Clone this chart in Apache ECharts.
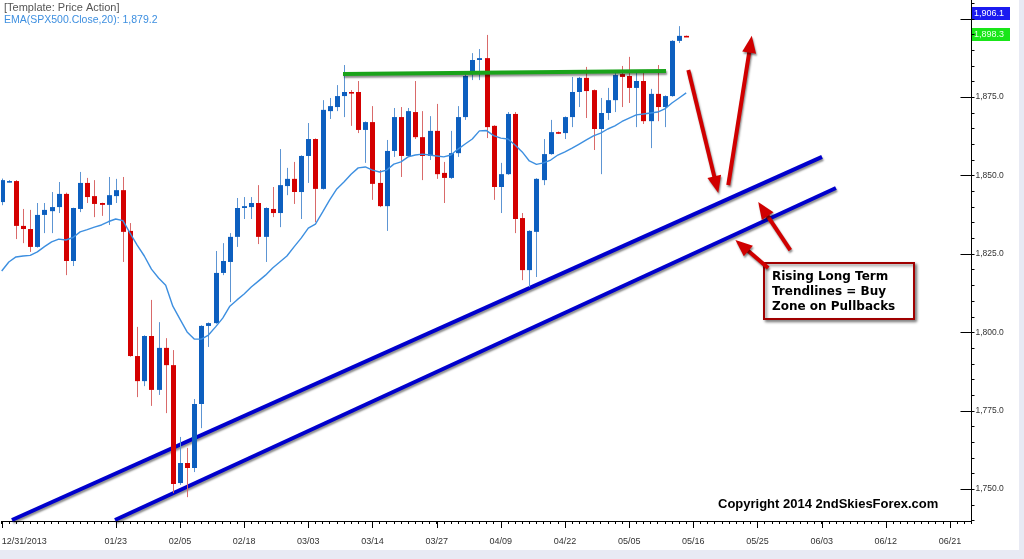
<!DOCTYPE html>
<html><head><meta charset="utf-8">
<script src="https://cdn.jsdelivr.net/npm/echarts@6/dist/echarts.min.js"></script>
<style>html,body{margin:0;padding:0;background:#fff;overflow:hidden}#c{width:1024px;height:559px;}</style>
</head><body><div id="c"></div>
<script>
// ---- data (bar index 0 = 12/31/2013) ----
const opens  = [1841.5,1848.0,1848.2,1833.9,1832.9,1827.2,1837.4,1838.6,1839.9,1844.1,1822.7,1839.3,1847.6,1843.4,1841.2,1840.6,1843.4,1845.3,1832.3,1792.4,1784.4,1798.8,1781.6,1795.0,1789.5,1751.9,1758.3,1756.7,1777.1,1802.0,1802.9,1818.9,1822.4,1830.4,1839.6,1839.9,1841.2,1830.4,1839.3,1838.0,1846.6,1848.9,1844.7,1856.2,1861.6,1845.7,1870.5,1871.8,1875.3,1876.6,1876.6,1864.5,1867.0,1847.6,1840.2,1857.8,1868.6,1856.2,1870.2,1862.2,1856.2,1864.2,1850.8,1849.2,1857.1,1868.6,1883.0,1886.8,1887.4,1865.8,1846.3,1850.4,1869.6,1836.4,1819.8,1832.0,1848.5,1856.8,1863.8,1863.5,1868.6,1876.6,1881.1,1877.2,1864.8,1869.9,1874.0,1882.3,1881.7,1877.9,1880.1,1867.3,1876.0,1871.8,1875.3,1892.9,1894.5];
const closes = [1848.5,1848.2,1833.9,1832.9,1827.2,1837.4,1839.0,1839.9,1844.1,1822.7,1839.6,1847.6,1843.1,1840.9,1840.6,1843.7,1845.3,1832.0,1792.4,1784.4,1798.8,1781.6,1795.0,1789.5,1751.6,1758.3,1756.7,1777.1,1802.0,1802.9,1818.9,1822.7,1830.4,1839.6,1840.2,1841.2,1830.4,1839.6,1838.0,1846.9,1848.9,1844.7,1856.2,1861.6,1845.7,1870.9,1872.1,1875.3,1876.6,1876.3,1864.5,1867.0,1847.3,1840.2,1857.8,1868.6,1856.2,1870.5,1862.2,1856.2,1864.2,1850.4,1849.2,1857.1,1868.6,1881.7,1886.8,1887.4,1865.4,1846.3,1850.4,1869.6,1836.1,1819.8,1832.3,1848.9,1856.8,1863.8,1863.4,1868.6,1876.6,1881.1,1876.9,1864.8,1869.9,1874.0,1882.0,1881.4,1877.9,1880.1,1867.3,1876.0,1871.8,1875.3,1892.9,1894.5,1894.3];
const lows   = [1840.5,1847.8,1829.7,1828.4,1825.6,1827.0,1831.6,1831.6,1838.0,1818.2,1821.1,1838.3,1841.2,1836.7,1837.1,1834.2,1841.2,1822.4,1792.2,1779.3,1782.8,1776.5,1780.0,1774.2,1748.7,1751.3,1747.4,1755.4,1769.4,1795.3,1802.7,1818.2,1809.6,1827.2,1836.1,1836.1,1828.1,1822.4,1836.7,1833.5,1843.7,1840.9,1836.1,1847.6,1835.1,1845.5,1868.0,1870.5,1868.6,1865.8,1863.5,1854.0,1842.2,1839.9,1832.3,1855.9,1849.5,1856.0,1861.6,1848.5,1854.9,1848.9,1841.2,1848.9,1855.9,1867.7,1880.4,1880.4,1861.9,1842.2,1838.0,1850.2,1831.6,1816.6,1814.4,1817.6,1846.9,1856.6,1863.2,1861.6,1865.4,1871.8,1868.3,1858.1,1850.4,1867.7,1870.2,1871.8,1873.1,1865.4,1866.4,1858.7,1867.3,1865.4,1875.1,1892.2,1894.2];
const highs  = [1849.0,1848.5,1848.5,1839.3,1839.0,1841.2,1841.2,1844.7,1847.9,1844.5,1839.7,1851.1,1849.2,1848.5,1841.3,1849.5,1848.9,1849.5,1834.8,1801.7,1799.0,1810.3,1803.2,1798.1,1794.3,1766.6,1763.1,1778.7,1802.2,1803.1,1825.9,1828.4,1831.6,1842.8,1843.1,1843.1,1846.9,1839.8,1846.3,1858.4,1852.4,1854.3,1856.4,1866.7,1861.8,1874.0,1874.7,1878.8,1885.2,1877.2,1880.1,1867.2,1872.1,1851.7,1861.3,1871.5,1871.8,1871.5,1880.1,1870.5,1868.9,1872.8,1854.3,1864.2,1872.1,1882.3,1889.0,1890.3,1894.8,1866.0,1854.0,1870.2,1870.2,1838.0,1832.5,1849.1,1861.6,1867.7,1864.0,1868.8,1881.4,1881.4,1884.6,1877.4,1874.7,1877.9,1883.0,1884.9,1887.8,1882.7,1882.7,1877.6,1885.2,1875.5,1893.1,1897.6,1894.6];
const ema20  = [1819.5,1822.4,1824.0,1824.3,1824.5,1825.6,1827.3,1828.8,1829.7,1829.4,1830.2,1832.0,1832.7,1833.5,1834.2,1835.3,1836.1,1835.6,1831.6,1827.8,1824.3,1820.1,1817.3,1815.0,1808.3,1804.2,1800.1,1797.8,1797.8,1799.1,1801.7,1804.5,1808.3,1810.3,1812.2,1814.4,1816.3,1818.2,1820.5,1822.4,1824.3,1827.2,1830.0,1833.2,1834.5,1838.3,1842.2,1845.7,1847.9,1850.4,1852.4,1852.7,1851.7,1851.1,1851.7,1853.6,1854.3,1855.9,1856.5,1856.8,1856.5,1856.2,1855.9,1856.5,1858.4,1860.0,1861.6,1864.2,1864.3,1862.7,1861.9,1861.6,1859.7,1857.5,1854.6,1853.5,1854.0,1854.9,1856.5,1857.5,1858.7,1860.0,1861.3,1862.6,1863.5,1864.8,1865.8,1867.2,1868.3,1869.3,1869.6,1869.9,1870.2,1871.2,1873.1,1874.7,1876.3];

// axis categories: one slot per trading weekday up to 05/15, then one per calendar day
const firstDate = '2013-12-31';
const lastTradeSlot = 96;
const slotCount = 137;
const tickIdx    = [0, 16, 25, 34, 43, 52, 61, 70, 79, 88, 97, 106, 115, 124, 133];
const tickLabels = ['12/31/2013','01/23','02/05','02/18','03/03','03/14','03/27','04/09','04/22','05/05','05/16','05/25','06/03','06/12','06/21'];
const yTicks = [1750, 1775, 1800, 1825, 1850, 1875, 1900];
const yLabelTicks = [1750, 1775, 1800, 1825, 1850, 1875];
const yMinorStep = 5;
const axisFloor = 1739.8;   // price level where the date axis line sits
const axisTop = 1906;

// annotation lines [x(slot), price] pairs
const trendUpper = [[1.44, 1740.1], [115.05, 1855.9]];
const trendLower = [[15.89, 1740.1], [117.0, 1846.0]];
const resistance = [[47.87, 1882.3], [93.17, 1883.3]];
const arrows = [
  [96.3, 1883.6, 100.5, 1844.4],
  [101.9, 1846.9, 105.2, 1894.5],
  [110.6, 1826.2, 106.1, 1841.5],
  [107.5, 1820.5, 102.9, 1829.4]
];

function pad(n){return (n<10?'0':'')+n;}
const categories = [];
(function(){
  let d = new Date(firstDate + 'T12:00:00');
  categories.push('12/31/2013');
  while (categories.length < slotCount) {
    d = new Date(d.getTime() + 86400000);
    const wd = d.getDay();
    const idx = categories.length;
    if (idx <= lastTradeSlot) {
      if (wd === 0 || wd === 6) continue;
      if (d.getMonth() === 0 && d.getDate() === 1) continue;
    }
    categories.push(pad(d.getMonth()+1) + '/' + pad(d.getDate()));
  }
})();
const minorPriceTicks = [];
for (let v = 1740; v <= 1905; v += yMinorStep) if (yTicks.indexOf(v) < 0) minorPriceTicks.push(v);

const candleData = opens.map((o, i) => [i, o, closes[i], lows[i], highs[i]]);
const tickSet = new Set(tickIdx);
const labelMap = {}; tickIdx.forEach((k, j) => labelMap[k] = tickLabels[j]);

const BLUE = '#0d5fbf', BLUE_W = '#5d95d3', RED = '#d40000', RED_W = '#d96a6a', ARROW = '#d00000';

function renderCandle(params, api) {
  const i = api.value(0), o = api.value(1), c = api.value(2), l = api.value(3), h = api.value(4);
  const up = c >= o;
  const pO = api.coord([i, o]), pC = api.coord([i, c]), pL = api.coord([i, l]), pH = api.coord([i, h]);
  const x = Math.round(pO[0]);
  const top = Math.min(pO[1], pC[1]);
  const bh = Math.max(Math.abs(pO[1] - pC[1]), 1.6);
  return {
    type: 'group',
    children: [
      {type: 'line', shape: {x1: x + 0.5, y1: pH[1], x2: x + 0.5, y2: pL[1]}, style: {stroke: up ? BLUE_W : RED_W, lineWidth: 1}},
      {type: 'rect', shape: {x: x - 2, y: top, width: 5, height: bh}, style: {fill: up ? BLUE : RED}}
    ]
  };
}

const shadow = {shadowColor: 'rgba(0,0,0,0.45)', shadowBlur: 2, shadowOffsetX: 1, shadowOffsetY: 2};
function renderArrow(params, api) {
  const p0 = api.coord([api.value(0), api.value(1)]);
  const p1 = api.coord([api.value(2), api.value(3)]);
  const dx = p1[0] - p0[0], dy = p1[1] - p0[1], L = Math.hypot(dx, dy);
  const ux = dx / L, uy = dy / L, nx = -uy, ny = ux;
  const HL = 17, HW = 7;
  const bx = p1[0] - ux * HL, by = p1[1] - uy * HL;
  return {
    type: 'group',
    children: [
      {type: 'line', shape: {x1: p0[0], y1: p0[1], x2: bx + ux * 3, y2: by + uy * 3}, style: Object.assign({stroke: ARROW, lineWidth: 4}, shadow)},
      {type: 'polygon', shape: {points: [[p1[0], p1[1]], [bx + nx * HW, by + ny * HW], [bx - nx * HW, by - ny * HW]]}, style: Object.assign({fill: ARROW}, shadow)}
    ]
  };
}
// longer date ticks at labelled slots (hang below the date axis)
function renderDateTick(params, api) {
  const p = api.coord([api.value(0), axisFloor]);
  const x = Math.round(p[0]) + 0.5, y = Math.round(p[1]);
  return {type: 'line', shape: {x1: x, y1: y, x2: x, y2: y + 7}, style: {stroke: '#000', lineWidth: 1}};
}
// price axis line, major ticks reaching into the plot, minor ticks outside
function renderPriceAxis(params, api) {
  const top = api.coord([slotCount - 1, axisTop]), bot = api.coord([slotCount - 1, axisFloor]);
  const x = Math.round(top[0]) + 0.5;
  const kids = [{type: 'line', shape: {x1: x, y1: 0, x2: x, y2: Math.round(bot[1]) + 1}, style: {stroke: '#000', lineWidth: 1}}];
  yTicks.forEach(v => {
    const y = Math.round(api.coord([slotCount - 1, v])[1]) + 0.5;
    kids.push({type: 'line', shape: {x1: x - 11, y1: y, x2: x + 3, y2: y}, style: {stroke: '#000', lineWidth: 1}});
  });
  minorPriceTicks.forEach(v => {
    const y = Math.round(api.coord([slotCount - 1, v])[1]) + 0.5;
    kids.push({type: 'line', shape: {x1: x, y1: y, x2: x + 3, y2: y}, style: {stroke: '#000', lineWidth: 1}});
  });
  return {type: 'group', children: kids};
}

const chart = echarts.init(document.getElementById('c'), null, {renderer: 'canvas'});
const FONT = 'Liberation Sans';
const shadowLine = (color, w) => Object.assign({color, width: w, cap: 'butt'}, shadow);

chart.setOption({
  animation: false,
  backgroundColor: '#ffffff',
  grid: {left: 1.7, right: 52.6, top: -0.2, bottom: -8.4, containLabel: false, outerBoundsMode: 'none'},
  xAxis: [{
    type: 'category', data: categories, boundaryGap: false, offset: -46.4, position: 'bottom',
    axisLine: {show: true, lineStyle: {color: '#000', width: 1}},
    axisTick: {show: true, length: 3, interval: 0, lineStyle: {color: '#000'}},
    axisLabel: {show: true, interval: (i) => tickSet.has(i), formatter: (v, i) => labelMap[i] || '', color: '#333', fontFamily: FONT, fontSize: 9, margin: 16, alignMinLabel: 'left', showMinLabel: true},
    splitLine: {show: false}
  }, {
    type: 'value', min: 0, max: slotCount - 1, show: false, position: 'top'
  }],
  yAxis: {
    type: 'value', position: 'right', min: 1725, max: axisTop, interval: 25,
    axisLine: {show: false},
    axisTick: {show: false},
    minorTick: {show: false},
    axisLabel: {show: true, color: '#333', fontFamily: FONT, fontSize: 8.5, margin: 4, showMaxLabel: false, showMinLabel: false,
      formatter: v => yLabelTicks.indexOf(v) >= 0 ? v.toLocaleString('en-US', {minimumFractionDigits: 1, maximumFractionDigits: 1}) : ''},
    splitLine: {show: false}
  },
  series: [
    {type: 'line', xAxisIndex: 1, data: trendUpper, symbol: 'none', lineStyle: shadowLine('#0000cc', 4), z: 3, silent: true},
    {type: 'line', xAxisIndex: 1, data: trendLower, symbol: 'none', lineStyle: shadowLine('#0000cc', 4), z: 3, silent: true},
    {type: 'custom', name: 'SPX500', renderItem: renderCandle, data: candleData, encode: {x: 0, y: [1, 2, 3, 4]}, clip: true, z: 4},
    {type: 'line', name: 'EMA20', data: ema20, symbol: 'none', smooth: false, lineStyle: {color: '#3d8fe0', width: 1.4}, z: 5, silent: true},
    {type: 'line', xAxisIndex: 1, data: resistance, symbol: 'none', lineStyle: shadowLine('#1aa31a', 4), z: 6, silent: true},
    {type: 'custom', xAxisIndex: 1, renderItem: renderArrow, data: arrows, encode: {x: [0, 2], y: [1, 3]}, clip: false, z: 7, silent: true},
    {type: 'custom', renderItem: renderDateTick, data: tickIdx.map(i => [i]), encode: {x: 0}, clip: false, z: 8, silent: true},
    {type: 'custom', xAxisIndex: 1, renderItem: renderPriceAxis, data: [[0]], clip: false, z: 8, silent: true}
  ],
  graphic: [
    {type: 'rect', left: 0, top: 550, z: 100, shape: {width: 1024, height: 9}, style: {fill: '#e8eaf4'}},
    {type: 'rect', left: 1019, top: 0, z: 100, shape: {width: 5, height: 559}, style: {fill: '#e8eaf4'}},
    {type: 'text', left: 4, top: 2, style: {text: '[Template: Price Action]', fill: '#555', font: '11px "Liberation Sans"'}},
    {type: 'text', left: 4, top: 15, style: {text: 'EMA(SPX500.Close,20): 1,879.2', fill: '#3d8fe0', font: '10.5px "Liberation Sans"'}},
    {type: 'group', left: 972, top: 7, children: [
      {type: 'rect', shape: {x: 0, y: 0, width: 38, height: 13}, style: {fill: '#1b1bf0'}},
      {type: 'text', x: 2, y: 2, style: {text: '1,906.1', fill: '#fff', font: '9px "Liberation Sans"'}}
    ]},
    {type: 'group', left: 972, top: 28, children: [
      {type: 'rect', shape: {x: 0, y: 0, width: 38, height: 13}, style: {fill: '#19e619'}},
      {type: 'text', x: 2, y: 2, style: {text: '1,898.3', fill: '#eaffea', font: '9px "Liberation Sans"'}}
    ]},
    {type: 'group', left: 763, top: 262, children: [
      {type: 'rect', shape: {x: 0, y: 0, width: 150, height: 56}, style: {fill: '#fff', stroke: '#a00000', lineWidth: 2, shadowColor: 'rgba(0,0,0,0.45)', shadowBlur: 3, shadowOffsetX: 2, shadowOffsetY: 2}},
      {type: 'text', x: 8, y: 6, style: {text: 'Rising Long Term\nTrendlines = Buy\nZone on Pullbacks', fill: '#000', font: 'bold 12px "DejaVu Sans"', lineHeight: 15}}
    ]},
    {type: 'text', left: 718, top: 498, style: {text: 'Copyright 2014 2ndSkiesForex.com', fill: '#000', font: 'bold 13px "Liberation Sans"'}}
  ]
});
</script>
</body></html>
